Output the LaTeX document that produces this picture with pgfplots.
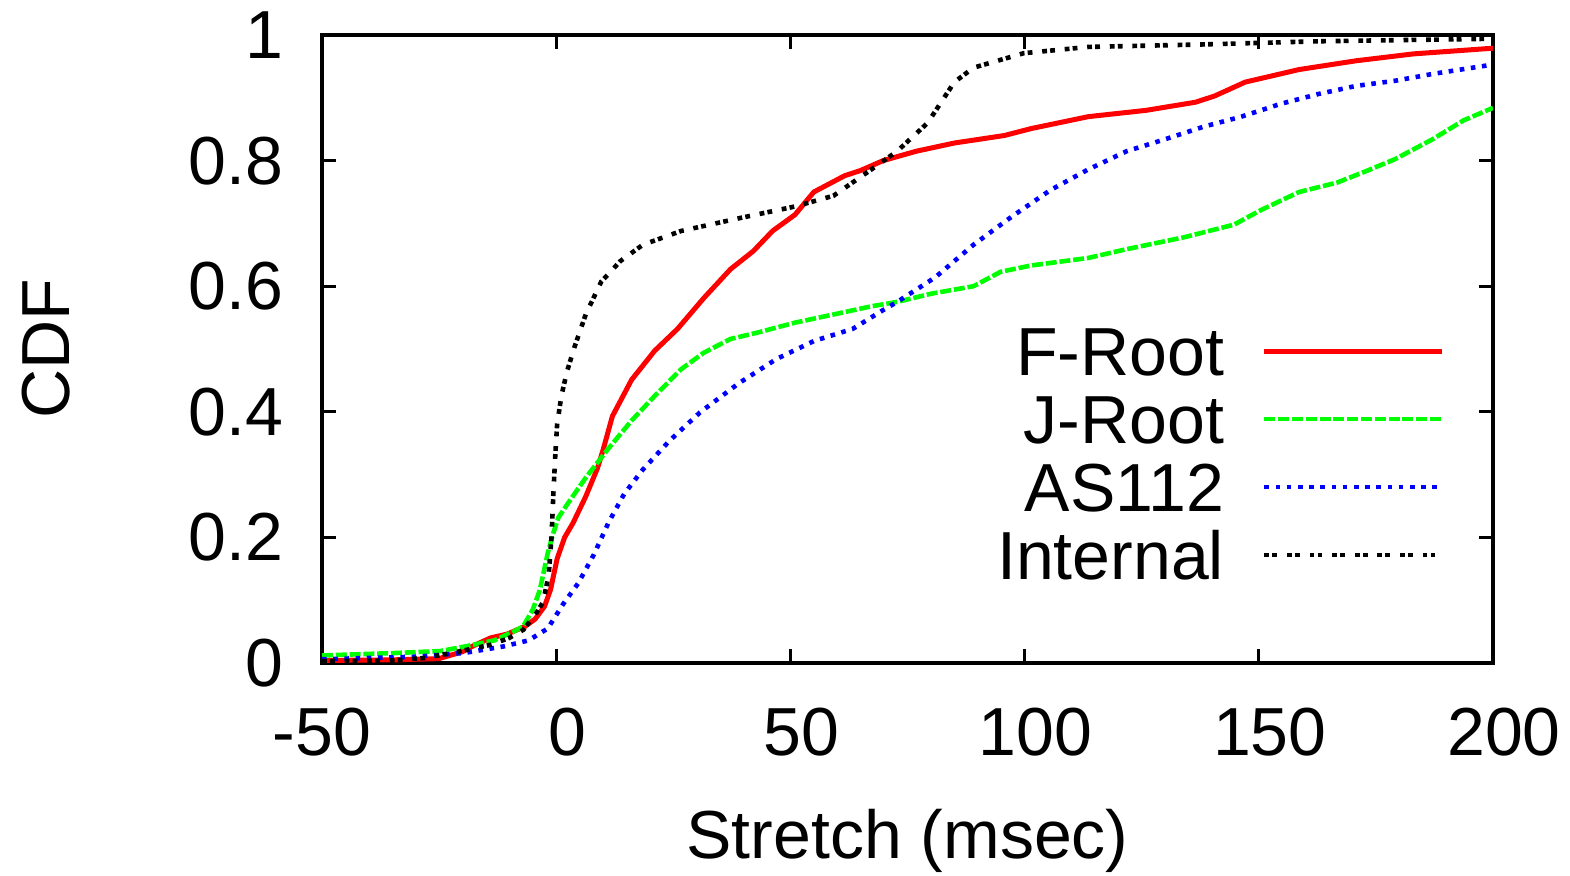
\documentclass[border=0pt]{standalone}
\usepackage{pgfplots}
\pgfplotsset{compat=1.18}
\usepackage{fontspec}
\setmainfont{Liberation Sans}
\newcommand{\bigf}{\fontsize{34}{40}\selectfont}
\begin{document}
\begin{tikzpicture}
\begin{axis}[
  name=ax,
  width=585.5pt, height=314pt, scale only axis,
  xmin=-50, xmax=200, ymin=0, ymax=1,
  xtick={-50,0,50,100,150,200},
  xticklabels={\hspace*{-11pt}-50,0,50,100,150,200},
  ytick={0,0.2,0.4,0.6,0.8,1},
  yticklabels={0,0.2,0.4,0.6,0.8,1},
  /pgf/number format/assume math mode=true,
  tick label style={font=\bigf},
  xticklabel style={yshift=-19pt, xshift=5.5pt},
  yticklabel style={xshift=-16pt},
  tick align=inside, tick pos=both,
  major tick length=7pt,
  every tick/.style={line width=1.5pt, black},
  axis line style={line width=2pt},
  xlabel={Stretch (msec)},
  ylabel={CDF},
  label style={font=\bigf},
  xlabel style={at={(axis description cs:0.5,-0.3105)}, anchor=base},
  ylabel style={at={(axis description cs:-0.2152,0.5)}, anchor=base, rotate=0},
  legend style={at={(axis description cs:0.959,0.535)}, anchor=north east,
    draw=none, fill=none, inner sep=0pt, outer sep=0pt, font=\bigf,
    row sep=10pt, column sep=19pt,
    nodes={inner sep=0pt, text height=24pt, text depth=0pt}},
  legend cell align=right,
  legend plot pos=right,
  legend image code/.code={\draw[#1] (0pt,0pt) -- (89pt,0pt);},
]
\addplot[color=red, line width=2.5pt, line join=round] coordinates {
(-50,0.004) (-35,0.005) (-25,0.007) (-20,0.018) (-17.8,0.027) (-14,0.04) (-10.5,0.046)
(-6.7,0.058) (-4.5,0.07) (-2.5,0.09) (-1.2,0.117) (0.2,0.166) (1.8,0.2) (3.6,0.223)
(6.3,0.265) (8.8,0.31) (10,0.339) (12,0.393) (16.1,0.451) (21,0.497) (25.9,0.532)
(31.5,0.581) (37.2,0.627) (42.1,0.656) (46.2,0.688) (51,0.714) (55,0.75) (61.6,0.776)
(64.9,0.784) (69.8,0.80) (76.9,0.815) (85,0.828) (95.7,0.84) (101.4,0.851) (113.6,0.87)
(125.9,0.88) (136.5,0.893) (140.6,0.903) (147.1,0.925) (158.6,0.945) (170.8,0.959)
(183.1,0.97) (200,0.979)};
\addlegendentry{F-Root}
\addplot[color=green, line width=2.3pt, dash pattern=on 5.5pt off 1.4pt] coordinates {
(-50,0.012) (-34,0.016) (-24.8,0.019) (-19.7,0.026) (-13.2,0.036) (-9.1,0.05) (-7.1,0.058)
(-5,0.085) (-3.5,0.116) (-1.8,0.175) (-0.7,0.205) (0.5,0.232) (2.3,0.252) (6.3,0.295)
(11.2,0.342) (16.1,0.386) (21,0.425) (26.7,0.468) (31.5,0.494) (37.2,0.516) (42.9,0.526)
(51,0.542) (59.2,0.555) (67.3,0.568) (72.8,0.575) (80,0.588) (89.1,0.60) (94.9,0.623)
(101.4,0.633) (113.6,0.645) (121.8,0.659) (134.1,0.678) (144.7,0.698) (150.4,0.721)
(158.6,0.75) (166.7,0.765) (172.5,0.782) (179,0.802) (187.1,0.834) (193.7,0.864) (200,0.884)};
\addlegendentry{J-Root}
\addplot[color=blue, line width=2.3pt, dash pattern=on 2.3pt off 3.3pt] coordinates {
(-50,0.006) (-30,0.01) (-19.7,0.016) (-11.5,0.026) (-5.9,0.036) (-1.8,0.055) (1.5,0.094)
(4.7,0.127) (8,0.172) (11.2,0.224) (14.5,0.269) (18.5,0.308) (24.2,0.354) (30.7,0.399)
(38.9,0.445) (47,0.484) (55.1,0.513) (63.3,0.532) (69.8,0.562) (72.8,0.575) (80.9,0.614)
(89.1,0.666) (97.3,0.711) (105.5,0.753) (113.6,0.786) (121.8,0.815) (130,0.834)
(138.2,0.854) (146.3,0.87) (154.5,0.89) (162.7,0.906) (170.8,0.919) (179,0.927)
(187.1,0.938) (200,0.953)};
\addlegendentry{AS112}
\addplot[color=black, line width=2.3pt, dash pattern=on 2.4pt off 1.6pt on 2.4pt off 4.9pt] coordinates {
(-50,0.003) (-35,0.004) (-28,0.008) (-21,0.018) (-14,0.029) (-10,0.04) (-7,0.053)
(-4.2,0.08) (-2.8,0.097) (-1.6,0.14) (-1,0.2) (-0.6,0.27) (-0.2,0.33) (0.2,0.38)
(1.1,0.425) (2.3,0.464) (3.9,0.503) (6.3,0.555) (9.6,0.607) (13.7,0.64) (18.5,0.666)
(26.7,0.688) (38.9,0.708) (51,0.727) (59.2,0.744) (67.3,0.786) (72.8,0.815) (79.3,0.86)
(85,0.925) (89.1,0.948) (99.8,0.971) (113.6,0.981) (138.2,0.985) (162.7,0.99) (200,0.994)};
\addlegendentry{Internal}
\end{axis}
\pgfresetboundingbox
\path ([shift={(-161pt,-106pt)}]ax.south west) rectangle ([shift={(38.5pt,17.5pt)}]ax.north east);
\end{tikzpicture}
\end{document}
